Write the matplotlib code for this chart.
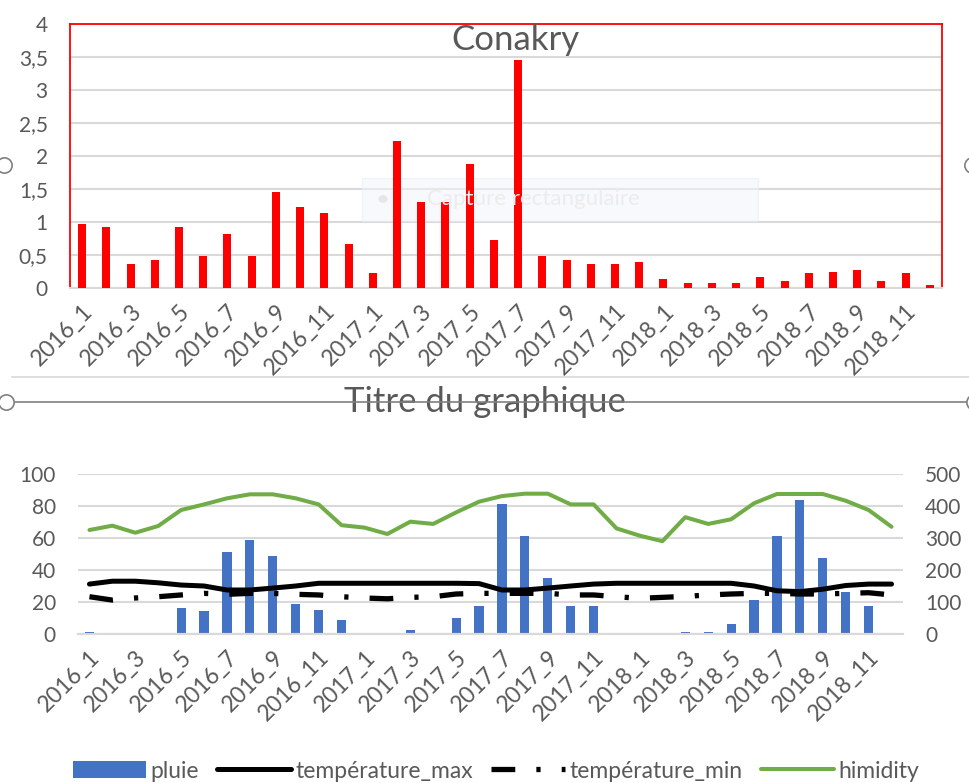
import matplotlib
matplotlib.use("Agg")
import matplotlib.pyplot as plt
from matplotlib.lines import Line2D
from matplotlib.patches import Rectangle, Circle

plt.rcParams['font.family'] = ['Lato', 'DejaVu Sans']

# categories: monthly, 2016_1 .. 2018_12
months = [f"{yr}_{m}" for yr in (2016, 2017, 2018) for m in range(1, 13)]

# top chart: Conakry
conakry = [0.97, 0.92, 0.37, 0.43, 0.92, 0.49, 0.82, 0.49, 1.46, 1.22, 1.13, 0.67,
           0.22, 2.22, 1.31, 1.31, 1.88, 0.73, 3.46, 0.49, 0.43, 0.37, 0.37, 0.40,
           0.13, 0.07, 0.07, 0.07, 0.16, 0.10, 0.22, 0.25, 0.28, 0.10, 0.22, 0.04]
top_yticks = [0, 0.5, 1, 1.5, 2, 2.5, 3, 3.5, 4]
top_ylabels = ['0', '0,5', '1', '1,5', '2', '2,5', '3', '3,5', '4']

# bottom chart
pluie = [7, 0, 0, 0, 82, 71, 257, 295, 245, 95, 76, 45,
         0, 0, 13, 0, 51, 88, 407, 307, 176, 88, 88, 0,
         0, 0, 7, 7, 32, 107, 307, 420, 238, 132, 88, 0]
temp_max = [31.2, 33, 33, 32, 30.6, 30, 27.5, 27.5, 28.7, 30, 31.7, 31.7,
            31.7, 31.7, 31.7, 31.7, 31.7, 31.5, 27.5, 27.5, 28.7, 30, 31.2, 31.7,
            31.7, 31.7, 31.7, 31.7, 31.7, 30, 27, 26.5, 28, 30.3, 31.2, 31.2]
temp_min = [23.3, 21.2, 22.5, 23.3, 24.4, 25.4, 24.8, 25.4, 25.4, 24.8, 24.4, 23.3,
            22.5, 22, 22.9, 23.3, 25, 25.4, 25.4, 25.4, 25.4, 24.4, 24.4, 23.3,
            22.3, 22.9, 23.5, 24.4, 25, 25.4, 25.4, 25, 25, 25.4, 25.8, 24.4]
humidity = [65, 67.7, 63.3, 67.5, 77.5, 81, 84.8, 87.3, 87.3, 84.8, 81, 68,
            66.5, 62.5, 70.2, 68.8, 76, 82.7, 86.2, 87.7, 87.7, 81, 81, 66,
            61.5, 58, 73, 68.8, 71.7, 81.7, 87.5, 87.5, 87.5, 83.3, 77.5, 67]

TXT = '#595959'
GRID = '#D9D9D9'
W, H = 970, 783

fig = plt.figure(figsize=(9.7, 7.83), dpi=100)
x = list(range(len(months)))

# ---- top chart ----
ax1 = fig.add_axes([70 / W, 1 - 288 / H, 872 / W, 264 / H])
ax1.bar(x, conakry, width=0.33, color='#FF0000', zorder=3)
ax1.set_xlim(-0.5, 35.5)
ax1.set_ylim(0, 4)
ax1.set_yticks(top_yticks)
ax1.set_yticklabels(top_ylabels)
ax1.set_xticks(x[::2])
ax1.set_xticklabels(months[::2], rotation=45, ha='right', rotation_mode='anchor')
ax1.grid(axis='y', color=GRID, lw=1.5, zorder=0)
ax1.set_axisbelow(True)
ax1.tick_params(length=0, colors=TXT, labelsize=15, pad=16)
ax1.tick_params(axis='x', pad=9, labelsize=16.5)
for s in ('left', 'top', 'right'):
    ax1.spines[s].set_color('#FF0000')
    ax1.spines[s].set_linewidth(1.3)
ax1.spines['bottom'].set_color(GRID)
ax1.spines['bottom'].set_linewidth(1.5)
fig.text(515 / W, 1 - 50 / H, 'Conakry', ha='center', va='baseline', fontsize=25, color=TXT)

# faint screen capture overlay
ax1.add_patch(Rectangle((362 / W, 1 - 221 / H), 396 / W, 43 / H, transform=fig.transFigure,
                        facecolor='#f1f5fb', edgecolor='#e6ecf4', alpha=0.5, zorder=2))
fig.text(427 / W, 1 - 199 / H, 'Capture rectangulaire', ha='left', va='center',
         fontsize=16, color='#ececec')
fig.add_artist(Circle((383 / W, 1 - 199 / H), 0.004, transform=fig.transFigure,
                      color='#e6e6e6'))

# separators / selection handles
fig.add_artist(Line2D([12 / W, 1], [1 - 377 / H] * 2, color=GRID, lw=1.2))
fig.add_artist(Line2D([12 / W, 968 / W], [1 - 402 / H] * 2, color='#808080', lw=1.2, zorder=5))
for hx, hy in [(4, 165), (972, 165), (6, 402), (974, 402)]:
    fig.add_artist(Line2D([hx / W], [1 - hy / H], marker='o', ms=11, mfc='white',
                          mec='#808080', mew=1.2, zorder=6))

fig.text(485 / W, 1 - 412 / H, 'Titre du graphique', ha='center', va='baseline',
         fontsize=25, color=TXT)

# ---- bottom chart ----
ax = fig.add_axes([78 / W, 1 - 634 / H, 825 / W, 160 / H])
ax2 = ax.twinx()
ax.set_zorder(ax2.get_zorder() + 1)
ax.patch.set_visible(False)

b = ax2.bar(x, pluie, width=0.4, color='#4472C4', label='pluie')
l1, = ax.plot(x, temp_max, color='black', lw=3.6, solid_capstyle='round', label='température_max')
l2, = ax.plot(x, temp_min, color='black', lw=3.8, ls=(0, (4.5, 4, 0.8, 4)),
              label='température_min')
l3, = ax.plot(x, humidity, color='#70AD47', lw=2.9, solid_capstyle='round', label='himidity')

ax.set_xlim(-0.5, 35.5)
ax.set_ylim(0, 100)
ax2.set_ylim(0, 500)
ax.set_yticks(range(0, 101, 20))
ax2.set_yticks(range(0, 501, 100))
ax2.grid(axis='y', color=GRID, lw=1.5)
ax2.set_axisbelow(True)
ax.set_xticks(x[::2])
ax.set_xticklabels(months[::2], rotation=45, ha='right', rotation_mode='anchor')
for a in (ax, ax2):
    for s in ('left', 'top', 'right'):
        a.spines[s].set_visible(False)
    a.spines['bottom'].set_color(GRID)
    a.spines['bottom'].set_linewidth(1.5)
    a.tick_params(length=0, colors=TXT, labelsize=15, pad=16)
ax.tick_params(axis='x', pad=9, labelsize=16.5)

fig.legend(handles=[b, l1, l2, l3], loc='center', bbox_to_anchor=(496 / W, 1 - 771 / H),
           ncol=4, frameon=False, fontsize=16.5, labelcolor=TXT, handlelength=3.2,
           handletextpad=0.2, columnspacing=0.8)

fig.savefig('out.png', dpi=100)
